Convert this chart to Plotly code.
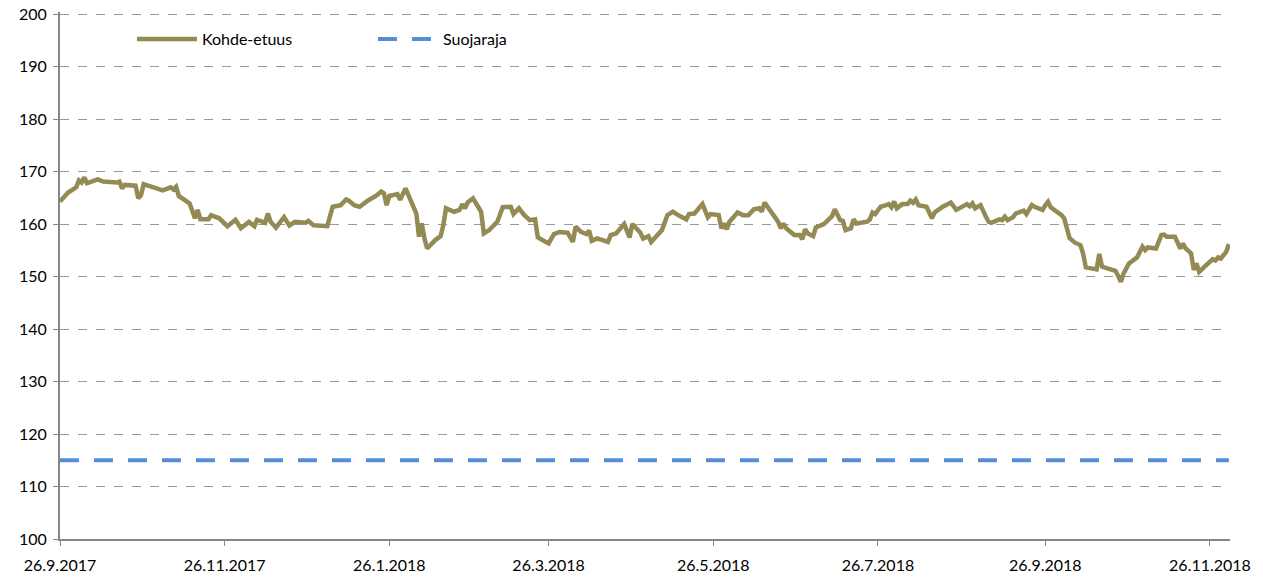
import plotly.graph_objects as go

dates = [
    "2017-09-26", "2017-09-29", "2017-10-02", "2017-10-03", "2017-10-04", "2017-10-05", "2017-10-06",
    "2017-10-10", "2017-10-12", "2017-10-17", "2017-10-18", "2017-10-19", "2017-10-20", "2017-10-24",
    "2017-10-25", "2017-10-26", "2017-10-27", "2017-10-30", "2017-11-01", "2017-11-03", "2017-11-06",
    "2017-11-07", "2017-11-08", "2017-11-09", "2017-11-13", "2017-11-15", "2017-11-16", "2017-11-17",
    "2017-11-20", "2017-11-21", "2017-11-24", "2017-11-27", "2017-11-30", "2017-12-02", "2017-12-05",
    "2017-12-07", "2017-12-08", "2017-12-11", "2017-12-12", "2017-12-13", "2017-12-15", "2017-12-18",
    "2017-12-20", "2017-12-22", "2017-12-26", "2017-12-27", "2017-12-29", "2018-01-03", "2018-01-05",
    "2018-01-08", "2018-01-10", "2018-01-11", "2018-01-13", "2018-01-15", "2018-01-18", "2018-01-21",
    "2018-01-23", "2018-01-24", "2018-01-25", "2018-01-26", "2018-01-29", "2018-01-30", "2018-02-01",
    "2018-02-03", "2018-02-05", "2018-02-06", "2018-02-07", "2018-02-08", "2018-02-09", "2018-02-12",
    "2018-02-14", "2018-02-15", "2018-02-16", "2018-02-19", "2018-02-21", "2018-02-22", "2018-02-23",
    "2018-02-24", "2018-02-26", "2018-03-01", "2018-03-02", "2018-03-04", "2018-03-06", "2018-03-07",
    "2018-03-09", "2018-03-12", "2018-03-13", "2018-03-15", "2018-03-17", "2018-03-19", "2018-03-21",
    "2018-03-22", "2018-03-25", "2018-03-26", "2018-03-28", "2018-03-30", "2018-04-02", "2018-04-04",
    "2018-04-05", "2018-04-07", "2018-04-09", "2018-04-10", "2018-04-11", "2018-04-13", "2018-04-15",
    "2018-04-17", "2018-04-18", "2018-04-20", "2018-04-23", "2018-04-25", "2018-04-26", "2018-04-29",
    "2018-04-30", "2018-05-02", "2018-05-03", "2018-05-07", "2018-05-09", "2018-05-11", "2018-05-13",
    "2018-05-16", "2018-05-17", "2018-05-19", "2018-05-22", "2018-05-24", "2018-05-25", "2018-05-28",
    "2018-05-29", "2018-05-30", "2018-05-31", "2018-06-01", "2018-06-04", "2018-06-06", "2018-06-08",
    "2018-06-10", "2018-06-12", "2018-06-13", "2018-06-14", "2018-06-17", "2018-06-19", "2018-06-20",
    "2018-06-21", "2018-06-22", "2018-06-23", "2018-06-25", "2018-06-27", "2018-06-28", "2018-06-29",
    "2018-06-30", "2018-07-02", "2018-07-03", "2018-07-06", "2018-07-08", "2018-07-09", "2018-07-10",
    "2018-07-12", "2018-07-13", "2018-07-14", "2018-07-16", "2018-07-17", "2018-07-18", "2018-07-22",
    "2018-07-23", "2018-07-24", "2018-07-25", "2018-07-27", "2018-07-29", "2018-07-30", "2018-07-31",
    "2018-08-01", "2018-08-02", "2018-08-04", "2018-08-06", "2018-08-07", "2018-08-08", "2018-08-09",
    "2018-08-10", "2018-08-13", "2018-08-15", "2018-08-16", "2018-08-19", "2018-08-22", "2018-08-24",
    "2018-08-26", "2018-08-28", "2018-08-29", "2018-08-30", "2018-08-31", "2018-09-02", "2018-09-04",
    "2018-09-05", "2018-09-06", "2018-09-09", "2018-09-10", "2018-09-11", "2018-09-12", "2018-09-14",
    "2018-09-15", "2018-09-18", "2018-09-19", "2018-09-21", "2018-09-22", "2018-09-25", "2018-09-26",
    "2018-09-27", "2018-09-28", "2018-09-30", "2018-10-02", "2018-10-03", "2018-10-04", "2018-10-05",
    "2018-10-07", "2018-10-09", "2018-10-10", "2018-10-11", "2018-10-13", "2018-10-15", "2018-10-16",
    "2018-10-17", "2018-10-19", "2018-10-22", "2018-10-23", "2018-10-24", "2018-10-25", "2018-10-26",
    "2018-10-27", "2018-10-30", "2018-10-31", "2018-11-01", "2018-11-02", "2018-11-03", "2018-11-06",
    "2018-11-08", "2018-11-09", "2018-11-10", "2018-11-13", "2018-11-14", "2018-11-15", "2018-11-16",
    "2018-11-17", "2018-11-19", "2018-11-20", "2018-11-21", "2018-11-22", "2018-11-24", "2018-11-27",
    "2018-11-28", "2018-11-29", "2018-11-30", "2018-12-02", "2018-12-03",
]

kohde_etuus = [
    164.3, 166.0, 167.0, 168.3, 167.9, 168.9, 167.8,
    168.5, 168.1, 167.9, 168.1, 166.8, 167.45, 167.3,
    164.9, 165.5, 167.6, 167.0, 166.8, 166.4, 167.0,
    166.6, 167.1, 165.35, 163.95, 161.1, 162.7, 160.9,
    160.9, 161.7, 161.1, 159.6, 160.8, 159.2, 160.4,
    159.6, 160.8, 160.25, 162.0, 160.45, 159.3, 161.3,
    159.7, 160.45, 160.25, 160.6, 159.75, 159.6, 163.3,
    163.6, 164.7, 164.45, 163.6, 163.3, 164.45, 165.35,
    166.2, 165.85, 163.6, 165.35, 165.7, 164.6, 166.8,
    164.25, 162.0, 157.6, 160.1, 157.3, 155.35, 156.95,
    157.7, 159.8, 163.0, 162.35, 162.7, 163.8, 163.0,
    164.1, 164.9, 162.35, 158.2, 158.85, 159.8, 160.45,
    163.2, 163.3, 161.9, 163.0, 161.7, 160.75, 160.9,
    157.45, 156.6, 156.3, 158.1, 158.5, 158.35, 156.6,
    159.5, 158.5, 158.1, 158.75, 156.8, 157.25, 156.95,
    156.6, 157.9, 158.2, 160.0, 157.45, 160.0, 158.35,
    157.25, 157.7, 156.6, 158.85, 161.7, 162.35, 161.7,
    160.9, 161.9, 162.0, 163.8, 161.3, 161.9, 161.7,
    159.2, 160.1, 159.0, 160.45, 162.2, 161.7, 161.7,
    162.8, 163.0, 162.35, 164.1, 162.0, 160.45, 159.2,
    160.1, 159.2, 158.85, 157.9, 157.9, 157.1, 159.0,
    158.2, 157.7, 159.35, 160.0, 160.9, 161.5, 162.8,
    160.75, 160.6, 158.85, 159.2, 160.9, 160.1, 160.45,
    160.9, 162.2, 161.9, 163.3, 163.6, 163.8, 163.2,
    164.3, 163.0, 163.8, 163.8, 164.45, 164.05, 164.7,
    163.6, 163.3, 161.1, 162.2, 163.3, 164.1, 162.7,
    163.3, 163.8, 163.4, 163.95, 163.0, 163.6, 161.4,
    160.45, 160.25, 160.9, 160.75, 161.4, 160.75, 161.3,
    162.0, 162.55, 161.9, 163.6, 163.3, 162.7, 163.6,
    164.25, 163.2, 162.55, 161.7, 161.1, 158.85, 157.3,
    156.45, 156.0, 154.4, 151.75, 151.55, 151.35, 154.3,
    151.9, 151.55, 151.1, 150.1, 149.0, 150.6, 151.55,
    152.5, 153.65, 154.5, 155.7, 155.05, 155.55, 155.35,
    157.9, 158.0, 157.6, 157.6, 156.6, 155.35, 156.3,
    155.35, 154.4, 151.25, 152.5, 150.9, 151.9, 153.3,
    153.05, 153.65, 153.45, 154.7, 156.2,
]

suojaraja_level = 115.0
suojaraja = [suojaraja_level for _ in dates]

tick_dates = ["2017-09-26", "2017-11-26", "2018-01-26", "2018-03-26",
              "2018-05-26", "2018-07-26", "2018-09-26", "2018-11-26"]
tick_labels = ["26.9.2017", "26.11.2017", "26.1.2018", "26.3.2018",
               "26.5.2018", "26.7.2018", "26.9.2018", "26.11.2018"]

OLIVE = "#948A54"
BLUE = "#558ED5"
FONT = "Lato, 'Open Sans', sans-serif"

fig = go.Figure()
fig.add_trace(go.Scatter(
    x=dates, y=kohde_etuus, mode="lines", name="Kohde-etuus",
    line=dict(color=OLIVE, width=4.5),
))
fig.add_trace(go.Scatter(
    x=dates, y=suojaraja, mode="lines", name="Suojaraja",
    line=dict(color=BLUE, width=4, dash="19px,15px"),
))

fig.update_layout(
    template="none",
    width=1263, height=579,
    margin=dict(l=60, r=33, t=12, b=40, autoexpand=False),
    paper_bgcolor="white", plot_bgcolor="white",
    font=dict(family=FONT, size=16, color="#000000"),
    showlegend=True,
    legend=dict(
        orientation="h", x=0.0615, y=0.9486, xanchor="left", yanchor="middle",
        bgcolor="rgba(0,0,0,0)", font=dict(size=16), itemwidth=60,
        traceorder="normal", entrywidth=166,
    ),
)

fig.update_xaxes(
    type="date", automargin=False, ticklabeloverflow="allow",
    range=["2017-09-26", "2018-12-03 10:00"],
    tickvals=tick_dates, ticktext=tick_labels,
    showgrid=False, zeroline=False,
    showline=True, linecolor="#868686", linewidth=2,
    ticks="outside", ticklen=5, tickcolor="#868686", tickwidth=1,
    tickfont=dict(size=16), ticklabelstandoff=6,
)
fig.update_yaxes(
    range=[100, 200.4], dtick=10, tick0=100, automargin=False,
    ticklabeloverflow="allow",
    showgrid=True, gridcolor="#999999", gridwidth=1, griddash="dash",
    zeroline=False,
    showline=True, linecolor="#868686", linewidth=2,
    ticks="outside", ticklen=5, tickcolor="#868686", tickwidth=1,
    tickfont=dict(size=16), ticklabelstandoff=3,
)

# remove the default 8px page margin so the figure fills the window exactly
fig.write_html("out.html", config={"displayModeBar": False},
               post_script="document.body.style.margin='0';")
